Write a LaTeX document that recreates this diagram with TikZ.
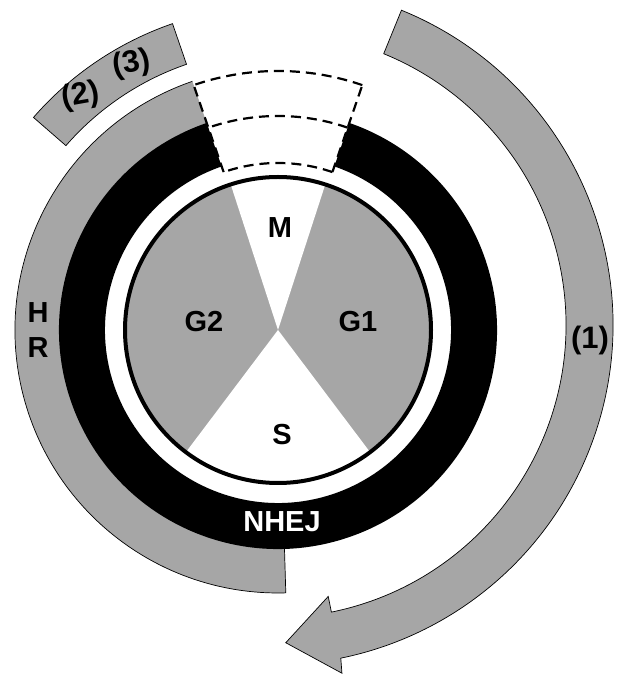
\documentclass[tikz,border=0pt]{standalone}
\usepackage{fontspec}
\setmainfont{Liberation Sans}
\usetikzlibrary{calc}
\definecolor{hgray}{RGB}{166,166,166}
\begin{document}
\begin{tikzpicture}[x=1pt,y=1pt,
  lbl/.style={font=\fontsize{29}{31}\selectfont\bfseries, inner sep=0pt},
  biglbl/.style={font=\fontsize{31}{33}\selectfont\bfseries, inner sep=0pt},
  band/.style={fill=hgray, draw=black, line width=0.7pt, line join=miter},
  thin/.style={draw=black, line width=0.7pt},
  dashline/.style={line width=2.2pt, dash pattern=on 10pt off 6pt}]
\useasboundingbox (0,0) rectangle (617,675);
\coordinate (C) at (278,345);
\coordinate (A) at (273,350);

% arrow (1)
\path[band] ($(A)+(67.8:340)$) arc[start angle=67.8,end angle=-78.5,radius=340]
  -- ($(A)+(-78.8:355)$) -- ($(A)+(-87.7:318)$) -- ($(A)+(-78.5:277)$)
  -- ($(A)+(-78.5:293)$) arc[start angle=-78.5,end angle=67.8,radius=293] -- cycle;

% small band (2)(3)
\path[band] ($(C)+(109:324)$) arc[start angle=109,end angle=139,radius=324]
  -- ($(C)+(139:281)$) arc[start angle=139,end angle=109,radius=281] -- cycle;

% HR band
\fill[hgray] ($(C)+(-88.3:263)$) arc[start angle=-88.3,end angle=-251,radius=263]
  -- ($(C)+(-251:212)$) arc[start angle=-251,end angle=-88.3,radius=212] -- cycle;
\draw[thin] ($(C)+(-251:263)$) arc[start angle=-251,end angle=-88.3,radius=263]
  -- ($(C)+(-88.3:218)$);

% black ring
\fill[black] ($(C)+(109:219)$) arc[start angle=109,end angle=431,radius=219]
  -- ($(C)+(71:173)$) arc[start angle=431,end angle=109,radius=173] -- cycle;

% dashed gap outline
\draw[dashline] ($(C)+(109:167)$) -- ($(C)+(109:260)$);
\draw[dashline] ($(C)+(71:167)$) -- ($(C)+(71:260)$);
\draw[dashline] ($(C)+(71:259)$) arc[start angle=71,end angle=109,radius=259];
\draw[dashline] ($(C)+(71:214)$) arc[start angle=71,end angle=109,radius=214];
\draw[dashline] ($(C)+(71:167)$) arc[start angle=71,end angle=109,radius=167];

% pie
\fill[hgray] (C) circle[radius=153];
\fill[white] (C) -- ($(C)+(72:153)$) arc[start angle=72,end angle=108,radius=153] -- cycle;
\fill[white] (C) -- ($(C)+(233:153)$) arc[start angle=233,end angle=307,radius=153] -- cycle;
\draw[line width=4pt] (C) circle[radius=153];

% labels
\node[lbl] (m) at (280,447) {M};
\node[lbl] (g2) at (204,353) {G2};
\node[lbl] (g1) at (358,353) {G1};
\node[lbl] (s) at (282,240) {S};
\node[lbl, text=white] (nhej) at (282,153) {NHEJ};
\node[lbl] (h) at (38,362) {H};
\node[lbl] (r) at (38,327) {R};
\node[biglbl] (one) at (590,335) {(1)};
\node[biglbl, rotate=10] (two) at (81,579) {(2)};
\node[biglbl, rotate=10] (three) at (132,611) {(3)};
\end{tikzpicture}
\end{document}
